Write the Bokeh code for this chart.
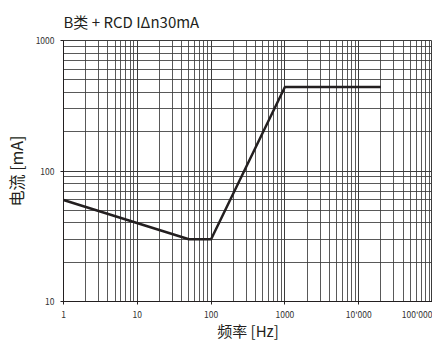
from bokeh.plotting import figure
from bokeh.models import FixedTicker, Title
from bokeh.embed import file_html
from bokeh.resources import INLINE

freq_hz = [1, 50, 100, 1000, 20000]
current_ma = [60, 30, 30, 440, 440]
x_ticks = [1, 10, 100, 1000, 10000, 100000]
x_labels = ["1", "10", "100", "1000", "10'000", "100'000"]
y_ticks = [10, 100, 1000]
y_labels = ["10", "100", "1000"]

FONT = "Noto Sans CJK SC"
GRID = "#3c3c3c"

x_minor = [m * 10 ** k for k in range(0, 5) for m in range(2, 10)]
y_minor = [m * 10 ** k for k in range(1, 3) for m in range(2, 10)]

p = figure(frame_width=369, frame_height=261, x_axis_type="log", y_axis_type="log",
           x_range=(1, 100000), y_range=(10, 1000),
           output_backend="svg", toolbar_location=None,
           min_border_left=56, min_border_right=0,
           min_border_top=40, min_border_bottom=36)
p.title = Title(text="B类 + RCD IΔn30mA", text_font=FONT, text_font_size="15px",
                text_font_style="normal", text_color="#231f20", align="left",
                offset=0, standoff=17)

p.xaxis.ticker = FixedTicker(ticks=x_ticks, minor_ticks=x_minor)
p.yaxis.ticker = FixedTicker(ticks=y_ticks, minor_ticks=y_minor)
p.xaxis.major_label_overrides = {t: l for t, l in zip(x_ticks, x_labels)}
p.yaxis.major_label_overrides = {t: l for t, l in zip(y_ticks, y_labels)}

for ax in (p.xaxis[0], p.yaxis[0]):
    ax.axis_line_color = "#231f20"
    ax.major_tick_line_color = "#231f20"
    ax.major_tick_out = 3
    ax.major_tick_in = 0
    ax.minor_tick_line_color = None
    ax.major_label_text_font = FONT
    ax.major_label_text_font_size = "8.5px"
    ax.major_label_text_color = "#333333"
    ax.axis_label_text_font = FONT
    ax.axis_label_text_font_style = "normal"
    ax.axis_label_text_color = "#231f20"

p.xaxis.axis_label = "频率 [Hz]"
p.yaxis.axis_label = "电流 [mA]"
p.xaxis.axis_label_text_font_size = "15px"
p.yaxis.axis_label_text_font_size = "16px"
p.xaxis.major_label_standoff = 2
p.yaxis.major_label_standoff = 5
p.xaxis.axis_label_standoff = -3
p.yaxis.axis_label_standoff = 5

for g in (p.xgrid[0], p.ygrid[0]):
    g.grid_line_color = GRID
    g.grid_line_alpha = 1
    g.grid_line_width = 1
    g.minor_grid_line_color = GRID
    g.minor_grid_line_alpha = 0.85
    g.minor_grid_line_width = 1

p.outline_line_color = GRID
p.outline_line_alpha = 1

p.line(freq_hz, current_ma, line_color="#231f20", line_width=2.5)

open("out.html", "w").write(file_html(p, INLINE))
